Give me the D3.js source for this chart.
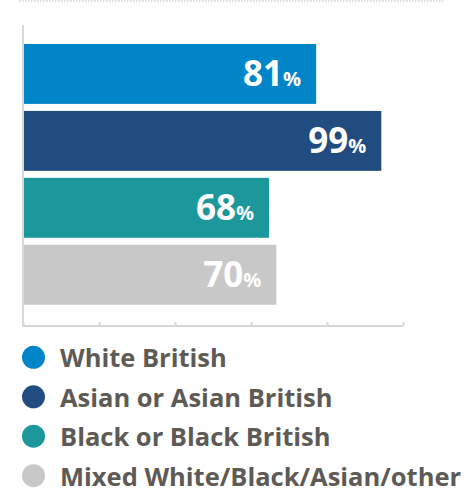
<!DOCTYPE html>
<html>
<head>
<meta charset="utf-8">
<script src="https://cdn.jsdelivr.net/npm/d3@7"></script>
<style>
  html, body { margin: 0; padding: 0; background: #ffffff; }
  svg { display: block; }
</style>
</head>
<body>
<svg id="chart" width="474" height="492"></svg>
<script>
// Share of each ethnic group, in percent
const categories = ["White British", "Asian or Asian British", "Black or Black British", "Mixed White/Black/Asian/other"];
const values = [81, 99, 68, 70];
const colors = ["#0086c8", "#214c80", "#1c989c", "#c8c8c8"];
const tickValues = [0, 21, 42, 63, 84, 105];

const svg = d3.select("#chart");
const fontFamily = "'Open Sans', 'DejaVu Sans', sans-serif";

// Dotted rule along the top edge
svg.append("line")
  .attr("x1", 19).attr("x2", 443)
  .attr("y1", 1).attr("y2", 1)
  .attr("stroke", "#cfcfcf")
  .attr("stroke-width", 1.5)
  .attr("stroke-dasharray", "1.5,1.5");

const x = d3.scaleLinear().domain([0, 105]).range([23, 403]);
const y = d3.scaleBand().domain(categories).range([44, 304.7]).paddingInner(0.105).paddingOuter(0);

const axisColor = "#d9d5d5";

// Bottom axis: unlabeled ticks pointing up into the plot
const xAxis = d3.axisBottom(x).tickValues(tickValues).tickSize(-4).tickFormat("");
const gx = svg.append("g").attr("transform", "translate(0,326)").call(xAxis);
gx.select(".domain").attr("stroke", axisColor).attr("stroke-width", 2).attr("d", "M23,0H403");
gx.selectAll(".tick line").attr("stroke", axisColor).attr("stroke-width", 2);

// Left axis line
svg.append("line")
  .attr("x1", x(0)).attr("x2", x(0))
  .attr("y1", 25).attr("y2", 327)
  .attr("stroke", axisColor).attr("stroke-width", 2);

// Bars
svg.append("g").selectAll("rect")
  .data(categories)
  .join("rect")
  .attr("x", x(0) + 1)
  .attr("y", d => y(d))
  .attr("width", (d, i) => x(values[i]) - x(0) - 1)
  .attr("height", y.bandwidth())
  .attr("fill", (d, i) => colors[i]);

// Value labels inside the bar ends
const labels = svg.append("g").selectAll("text")
  .data(categories)
  .join("text")
  .attr("x", (d, i) => x(values[i]) - 15)
  .attr("y", d => y(d) + y.bandwidth() / 2 + 12.5)
  .attr("text-anchor", "end")
  .attr("fill", "#ffffff")
  .attr("font-family", fontFamily)
  .attr("font-weight", 700);
labels.append("tspan").attr("font-size", 35).text((d, i) => values[i]);
labels.append("tspan").attr("font-size", 20).text("%");

// Legend
const legendY = d3.scalePoint().domain(categories).range([357.3, 475.7]);
const legend = svg.append("g").selectAll("g")
  .data(categories)
  .join("g")
  .attr("transform", d => `translate(0,${legendY(d)})`);
legend.append("circle")
  .attr("cx", 33.5).attr("cy", 0).attr("r", 11.5)
  .attr("fill", (d, i) => colors[i]);
legend.append("text")
  .attr("x", 60).attr("y", 10)
  .attr("fill", "#5e5a55")
  .attr("font-family", fontFamily)
  .attr("font-weight", 700)
  .attr("font-size", 25.5)
  .text(d => d);
</script>
</body>
</html>
